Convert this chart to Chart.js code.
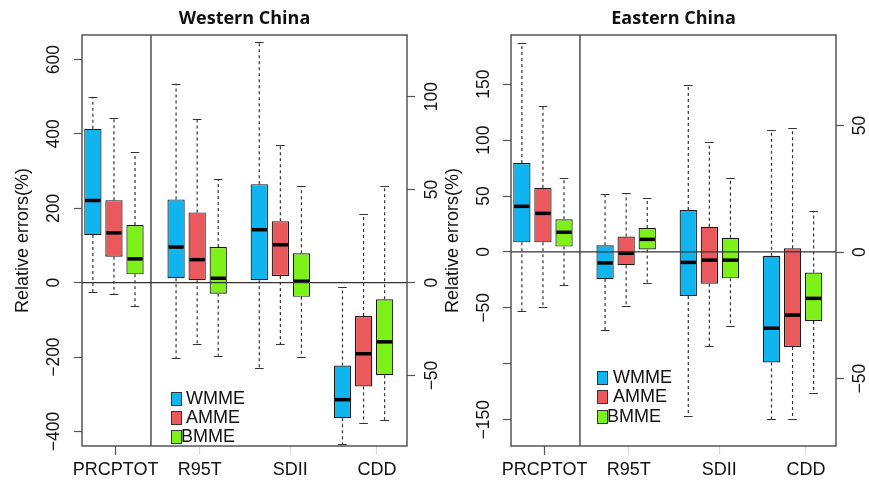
<!DOCTYPE html>
<html>
<head>
<meta charset="UTF-8">
<title>Relative errors</title>
<script src="https://cdn.jsdelivr.net/npm/chart.js"></script>
<style>
	* {padding: 0; margin: 0;}
	body {width: 869px; height: 482px; position: relative; overflow: hidden; background: #fff;}
	canvas {position: absolute; top: 0;}
	#west {left: 0;}
	#east {left: 440px;}
	.ttl {position: absolute; top: 7px; width: 325px; text-align: center; font: bold 18px "Open Sans", sans-serif; line-height: 20px; color: #111;}
	.key {position: absolute; width: 9px; height: 12px; border: 1px solid #333;}
	.lab {position: absolute; font: 18px "Liberation Sans", Arial, sans-serif; line-height: 20px; color: #111;}
</style>
<script>
	const categories = ['PRCPTOT', 'R95T', 'SDII', 'CDD'];
	const models = ['WMME', 'AMME', 'BMME'];

	// box stats per index: [low whisker, Q1, median, Q3, high whisker]
	// PRCPTOT is read on the left axis, R95T/SDII/CDD on the right axis
	const westWMME = [[-26, 128, 221, 414, 500], [-40.6, 2.3, 19.1, 44.7, 107], [-45.7, 1.2, 28.4, 52.9, 129.5], [-87, -73, -63, -44.6, -2.5]];
	const westAMME = [[-31, 70, 134, 222, 442], [-33, 1.2, 12.3, 37.7, 88], [-33, 3.5, 20.3, 33, 73.7], [-75.4, -55.9, -38.3, -18, 36.8]];
	const westBMME = [[-63, 22.5, 64, 155, 351], [-39.4, -6, 2.3, 19.1, 55.6], [-40, -7.7, 0.7, 15.7, 51.9], [-73.8, -49.8, -31.9, -9, 51.9]];

	const eastWMME = [[-53, 8.6, 40.8, 79.5, 186.6], [-30.8, -10.7, -4.3, 2.7, 23], [-64.8, -17.4, -4.1, 16.6, 66], [-65.9, -43.6, -30.1, -1.5, 48.2]];
	const eastAMME = [[-48.8, 8.6, 34.5, 57.4, 130.4], [-21.3, -5.2, -0.5, 6.1, 23.2], [-37.1, -12.5, -3.2, 10, 43.4], [-65.9, -37.5, -24.9, 1.5, 49]];
	const eastBMME = [[-29.7, 4.8, 17.6, 29.2, 65.8], [-12.1, 1, 5, 9.5, 21.3], [-29.2, -10.4, -3.2, 5.6, 29.4], [-55.7, -27.2, -18.3, -8.1, 16.3]];

	// tick values
	const westLeftTicks = [-400, -200, 0, 200, 400, 600];
	const westRightTicks = [-50, 0, 50, 100];
	const eastLeftTicks = [-150, -100, -50, 0, 50, 100, 150];
	const eastRightTicks = [-50, 0, 50];
	const eastLeftHidden = [-100]; // tick drawn, label left out

	const boxColors = ['#10b4ee', '#ea5a5c', '#7ef01a'];
	const labelAt = [0.02, 1.03, 2.12, 3.16]; // where the x labels sit
	const splitAt = 0.445; // vertical line after PRCPTOT

	function boxDatasets(series, axis, idx){
		return series.map((s, m) => ({
			label: models[m],
			yAxisID: axis,
			stats: idx.map(k => s[k]),
			data: idx.map(k => ({x: k, y: [s[k][1], s[k][3]]})),
			backgroundColor: boxColors[m],
			borderColor: '#1a1a1a',
			borderWidth: 1.2,
			borderSkipped: false,
			categoryPercentage: 0.76,
			barPercentage: 0.82,
			skipNull: true
		}));
	}

	// whiskers, medians, zero line, split line and the frame
	const boxPlot = {
		id: 'boxPlot',
		afterDatasetsDraw(chart){
			const ctx = chart.ctx;
			const a = chart.chartArea;
			ctx.save();
			chart.data.datasets.forEach((ds, i) => {
				const y = chart.scales[ds.yAxisID];
				chart.getDatasetMeta(i).data.forEach((bar, j) => {
					const st = ds.stats[j];
					const p = bar.getProps(['x', 'width'], true);
					const x = p.x, hw = p.width / 2;
					ctx.strokeStyle = '#333';
					ctx.lineWidth = 1.2;
					ctx.setLineDash([3, 3]);
					ctx.beginPath();
					ctx.moveTo(x, y.getPixelForValue(st[3]));
					ctx.lineTo(x, y.getPixelForValue(st[4]));
					ctx.moveTo(x, y.getPixelForValue(st[1]));
					ctx.lineTo(x, y.getPixelForValue(st[0]));
					ctx.stroke();
					ctx.setLineDash([]);
					ctx.beginPath();
					[st[0], st[4]].forEach(v => {
						const py = Math.round(y.getPixelForValue(v)) + 0.5;
						ctx.moveTo(x - hw / 2, py);
						ctx.lineTo(x + hw / 2, py);
					});
					ctx.stroke();
					ctx.strokeStyle = '#000';
					ctx.lineWidth = 3.5;
					ctx.beginPath();
					const my = y.getPixelForValue(st[2]);
					ctx.moveTo(x - hw + 1, my);
					ctx.lineTo(x + hw - 1, my);
					ctx.stroke();
				});
			});
			ctx.strokeStyle = '#333';
			ctx.lineWidth = 1.3;
			ctx.beginPath();
			const zy = chart.scales.yL.getPixelForValue(0);
			ctx.moveTo(a.left, zy);
			ctx.lineTo(a.right, zy);
			const sx = chart.scales.x.getPixelForValue(splitAt);
			ctx.moveTo(sx, a.top);
			ctx.lineTo(sx, a.bottom);
			ctx.stroke();
			ctx.strokeStyle = '#555';
			ctx.lineWidth = 1.5;
			ctx.strokeRect(a.left, a.top, a.right - a.left, a.bottom - a.top);
			ctx.restore();
		}
	};

	function yAxis(side, ticks, min, max, width, pad, title, hidden){
		return {
			type: 'linear',
			position: side,
			min: min,
			max: max,
			afterBuildTicks: s => { s.ticks = ticks.map(v => ({value: v})); },
			afterFit: s => { s.width = width; },
			grid: {drawOnChartArea: false, tickLength: 8, tickColor: '#555', tickWidth: 1.2},
			border: {display: false},
			title: title ? {display: true, text: 'Relative errors(%)', color: '#111', font: {size: 18}, padding: {top: title, bottom: 0}} : {display: false},
			ticks: {
				minRotation: 90, maxRotation: 90, crossAlign: 'center', padding: pad,
				color: '#111', font: {size: 17.5},
				callback: v => (hidden || []).includes(v) ? '' : String(v).replace('-', '\u2212')
			}
		};
	}

	function drawPanel(id, series, yL, yR){
		new Chart(document.getElementById(id), {
			type: 'bar',
			data: {
				datasets: [...boxDatasets(series, 'yL', [0]), ...boxDatasets(series, 'yR', [1, 2, 3])]
			},
			options: {
				responsive: false,
				animation: false,
				layout: {padding: {top: 35, left: 0, right: 0, bottom: 0}},
				plugins: {legend: {display: false}, tooltip: {enabled: false}},
				scales: {
					x: {
						type: 'linear', min: -0.384, max: 3.522, offset: false,
						afterBuildTicks: s => { s.ticks = labelAt.map(v => ({value: v})); },
						afterFit: s => { s.height = 36; },
						grid: {offset: false, drawOnChartArea: false, tickLength: 9, tickWidth: 1.2,
							tickColor: c => c.index === 0 ? '#555' : 'rgba(0,0,0,0.15)'},
						border: {display: false},
						ticks: {autoSkip: false, maxRotation: 0, padding: 4, color: '#111', font: {size: 18},
							callback: (v, i) => categories[i]}
					},
					yL: yL,
					yR: yR
				}
			},
			plugins: [boxPlot]
		});
	}

	window.onload = function(){
		Chart.defaults.font.family = '"Liberation Sans", Arial, sans-serif';
		drawPanel('west', [westWMME, westAMME, westBMME],
			yAxis('left', westLeftTicks, -439, 666, 82, 0, 12.2),
			yAxis('right', westRightTicks, -87.9, 133.1, 33, 2));
		drawPanel('east', [eastWMME, eastAMME, eastBMME],
			yAxis('left', eastLeftTicks, -173.5, 194, 71, -1, 2.2, eastLeftHidden),
			yAxis('right', eastRightTicks, -76.6, 85.7, 33, 1));
	};
</script>
</head>
<body>
	<canvas id="west" width="440" height="482"></canvas>
	<canvas id="east" width="429" height="482"></canvas>

	<div class="ttl" style="left:82px">Western China</div>
	<div class="ttl" style="left:511px">Eastern China</div>

	<div class="key" style="left:171px; top:392px; background:#10b4ee"></div>
	<div class="key" style="left:171px; top:411px; background:#ea5a5c"></div>
	<div class="key" style="left:171px; top:430px; background:#7ef01a"></div>
	<div class="lab" style="left:186px; top:388px">WMME</div>
	<div class="lab" style="left:186px; top:407px">AMME</div>
	<div class="lab" style="left:181px; top:426px">BMME</div>

	<div class="key" style="left:597px; top:371px; background:#10b4ee"></div>
	<div class="key" style="left:597px; top:390px; background:#ea5a5c"></div>
	<div class="key" style="left:597px; top:410px; background:#7ef01a"></div>
	<div class="lab" style="left:613px; top:367px">WMME</div>
	<div class="lab" style="left:613px; top:386px">AMME</div>
	<div class="lab" style="left:607px; top:406px">BMME</div>
</body>
</html>
